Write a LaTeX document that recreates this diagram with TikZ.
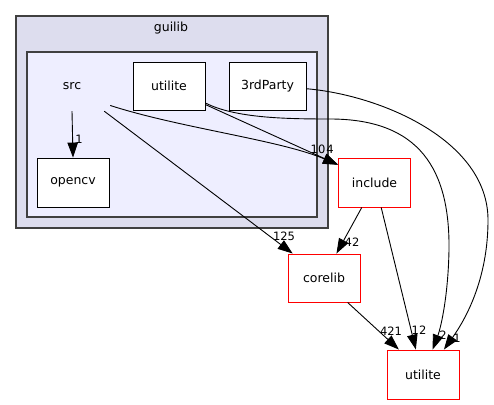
\documentclass[tikz,border=0pt]{standalone}
\usepackage{fontspec}
\setmainfont{DejaVu Sans}
\usetikzlibrary{arrows.meta}
\definecolor{outerfill}{HTML}{DDDDEE}
\definecolor{innerfill}{HTML}{EEEEFF}
\definecolor{clusterline}{HTML}{404040}
\begin{document}
\begin{tikzpicture}[x=1pt,y=-1pt,
  cluster/.style={draw=clusterline,line width=1.4pt},
  dirbox/.style={draw=black,fill=white,line width=0.9pt,minimum width=72pt,minimum height=48pt,inner sep=0pt,font=\fontsize{12.5}{14}\selectfont},
  extbox/.style={draw=red,fill=white,line width=0.9pt,minimum width=72pt,minimum height=48pt,inner sep=0pt,font=\fontsize{12.5}{14}\selectfont},
  edge/.style={draw=black,line width=0.9pt,-{Triangle[length=15pt,width=10.5pt]}},
  elabel/.style={font=\fontsize{11.5}{13}\selectfont,inner sep=0pt}
]
\useasboundingbox (0,0) rectangle (494,404);
\fill[white] (0,0) rectangle (494,404);
% clusters
\draw[cluster,fill=outerfill] (16,16) rectangle (328,228);
\node[font=\fontsize{12.5}{14}\selectfont] (guiliblbl) at (171,28) {guilib};
\draw[cluster,fill=innerfill] (27,52) rectangle (317,217);
% nodes
\node[minimum width=76pt,minimum height=50pt,inner sep=0pt,font=\fontsize{12.5}{14}\selectfont] (src) at (72,86) {src};
\node[dirbox] (utiliteA) at (169,86) {utilite};
\node[dirbox,minimum width=77pt] (third) at (267.5,86) {3rdParty};
\node[dirbox,minimum height=49pt] (opencv) at (73,182.5) {opencv};
\node[extbox,minimum height=49pt] (include) at (374.5,182.5) {include};
\node[extbox] (corelib) at (324,278) {corelib};
\node[extbox,minimum height=49pt] (utiliteB) at (423,374.5) {utilite};
% edges
\draw[edge] (src.south) -- (opencv.north);
\node[elabel] (l1) at (79,139) {1};
\draw[edge] (src.-27.8) .. controls (180,128) and (280,140) .. (include.154);
\draw[edge] (utiliteA.-27.8) -- (include.154);
\node[elabel] (l10) at (318,149) {10};
\node[elabel] (l4) at (330,149) {4};
\draw[edge] (utiliteA.-25.3) .. controls (235,118) and (285,119) .. (330,119)
  .. controls (420,119) and (450,170) .. (449,250)
  .. controls (448,300) and (440,330) .. (utiliteB.69.8);
\node[elabel] (l2) at (443,335) {2};
\draw[edge] (third.-4.5) .. controls (380,95) and (488,140) .. (488,220)
  .. controls (488,280) and (465,320) .. (utiliteB.50.8);
\node[elabel] (l1b) at (457,338) {1};
\draw[edge] (src.-38.9) -- (corelib.142.3);
\node[elabel] (l125) at (284,236) {125};
\draw[edge] (include.-117) -- (corelib.63.4);
\node[elabel] (l42) at (352,242) {42};
\draw[edge] (include.-75.1) -- (utiliteB.106);
\node[elabel] (l12) at (419,330) {12};
\draw[edge] (corelib.-46.2) -- (utiliteB.134.4);
\node[elabel] (l421) at (391,331) {421};
\end{tikzpicture}
\end{document}
